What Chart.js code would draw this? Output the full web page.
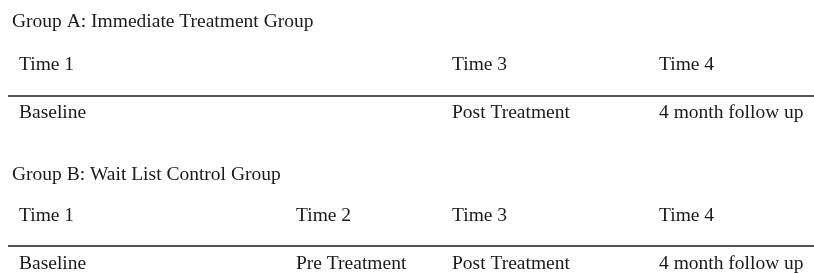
<!DOCTYPE html>
<html>
<head>
<meta charset="utf-8">
<script src="https://cdn.jsdelivr.net/npm/chart.js@4"></script>
<style>
  html, body { margin: 0; padding: 0; background: #fff; }
  #wrap { width: 814px; height: 273px; position: relative; }
</style>
</head>
<body>
<div id="wrap"><canvas id="designChart"></canvas></div>
<script>
// Study design data
const groupTitles = ['Group A: Immediate Treatment Group', 'Group B: Wait List Control Group'];
const timeLabelsA = ['Time 1', '', 'Time 3', 'Time 4'];
const phasesA = ['Baseline', '', 'Post Treatment', '4 month follow up'];
const timeLabelsB = ['Time 1', 'Time 2', 'Time 3', 'Time 4'];
const phasesB = ['Baseline', 'Pre Treatment', 'Post Treatment', '4 month follow up'];

// Layout (pixel-like units on the hidden scales)
const colX = [19, 296, 452, 659];
const titleX = 12;
const blocks = [
  { titleY: 27, timeY: 70, ruleY: 96, phaseY: 118 },
  { titleY: 180, timeY: 221, ruleY: 246, phaseY: 269 }
];
const ink = '#1a1a1a';
const font = '19.5px "Liberation Serif", "Times New Roman", serif';

const groups = [
  { title: groupTitles[0], times: timeLabelsA, phases: phasesA },
  { title: groupTitles[1], times: timeLabelsB, phases: phasesB }
];

const textPlugin = {
  id: 'designText',
  afterDatasetsDraw(chart) {
    const { ctx, scales: { x, y } } = chart;
    ctx.save();
    ctx.fillStyle = ink;
    ctx.font = font;
    ctx.textBaseline = 'alphabetic';
    ctx.textAlign = 'left';
    groups.forEach((g, i) => {
      const b = blocks[i];
      ctx.fillText(g.title, x.getPixelForValue(titleX), y.getPixelForValue(b.titleY));
      g.times.forEach((t, c) => {
        if (t) ctx.fillText(t, x.getPixelForValue(colX[c]), y.getPixelForValue(b.timeY));
      });
      g.phases.forEach((p, c) => {
        if (p) ctx.fillText(p, x.getPixelForValue(colX[c]), y.getPixelForValue(b.phaseY));
      });
    });
    ctx.restore();
  }
};

new Chart(document.getElementById('designChart'), {
  type: 'scatter',
  data: {
    datasets: blocks.map(b => ({
      type: 'line',
      data: [{ x: 8, y: b.ruleY }, { x: 814, y: b.ruleY }],
      borderColor: ink,
      borderWidth: 1.6,
      pointRadius: 0,
      fill: false
    }))
  },
  options: {
    responsive: true,
    maintainAspectRatio: false,
    animation: false,
    layout: { padding: 0 },
    plugins: { legend: { display: false }, tooltip: { enabled: false } },
    scales: {
      x: { type: 'linear', min: 0, max: 814, display: false },
      y: { type: 'linear', min: 0, max: 273, reverse: true, display: false }
    }
  },
  plugins: [textPlugin]
});
</script>
</body>
</html>
